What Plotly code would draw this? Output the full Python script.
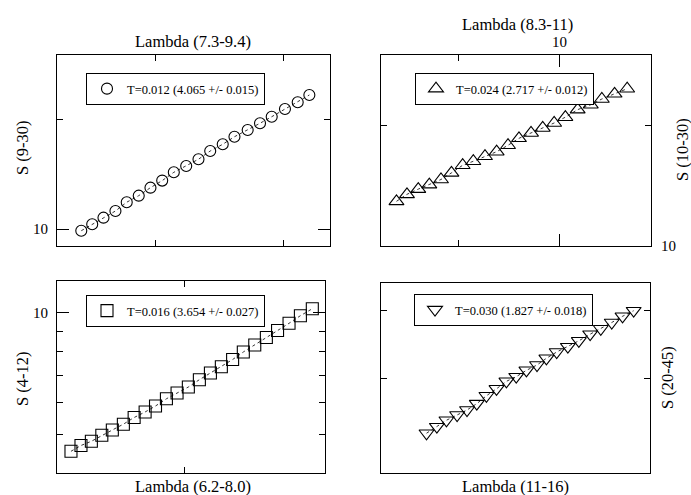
import math
import plotly.graph_objects as go

FONT = "Liberation Serif"

# ---------------- data ----------------
# Panel A (top-left): circles
LAMBDA_A = [7.466, 7.542, 7.621, 7.706, 7.787, 7.874, 7.960, 8.047, 8.134, 8.228,
            8.322, 8.413, 8.511, 8.604, 8.710, 8.810, 8.906, 9.016, 9.123, 9.222]
S_A = [9.91, 10.32, 10.76, 11.22, 11.86, 12.36, 13.00, 13.59, 14.32, 14.90,
       15.55, 16.38, 17.09, 17.92, 18.70, 19.51, 20.33, 21.35, 22.27, 23.32]
LABEL_A = "T=0.012 (4.065 +/- 0.015)"

# Panel B (top-right): up triangles
LAMBDA_B = [8.435, 8.528, 8.629, 8.729, 8.836, 8.933, 9.038, 9.139, 9.251, 9.364,
            9.476, 9.585, 9.706, 9.825, 9.943, 10.06, 10.19, 10.33, 10.45, 10.59, 10.73]
S_B = [12.93, 13.46, 13.87, 14.23, 14.66, 15.23, 15.91, 16.28, 16.76, 17.20,
       17.85, 18.58, 19.16, 19.72, 20.29, 20.98, 21.91, 22.54, 23.29, 24.00, 24.71]
LABEL_B = "T=0.024 (2.717 +/- 0.012)"

# Panel C (bottom-left): squares
LAMBDA_C = [6.283, 6.343, 6.406, 6.470, 6.535, 6.604, 6.672, 6.742, 6.809, 6.880,
            6.950, 7.025, 7.099, 7.174, 7.249, 7.327, 7.402, 7.483, 7.566, 7.647,
            7.731, 7.815, 7.904]
S_C = [4.529, 4.682, 4.796, 4.963, 5.116, 5.289, 5.495, 5.671, 5.869, 6.116,
       6.322, 6.543, 6.822, 7.088, 7.348, 7.657, 7.993, 8.320, 8.685, 9.040,
       9.420, 9.839, 10.24]
LABEL_C = "T=0.016 (3.654 +/- 0.027)"

# Panel D (bottom-right): down triangles
LAMBDA_D = [11.72, 11.89, 12.05, 12.23, 12.40, 12.57, 12.74, 12.92, 13.10, 13.28,
            13.47, 13.67, 13.85, 14.05, 14.27, 14.49, 14.72, 14.94, 15.17, 15.40, 15.64]
S_D = [23.70, 24.37, 25.05, 25.62, 26.17, 26.89, 27.81, 28.65, 29.58, 30.17,
       31.00, 31.71, 32.63, 33.52, 34.29, 35.16, 36.17, 37.02, 38.02, 39.04, 39.98]
LABEL_D = "T=0.030 (1.827 +/- 0.018)"

# axis ranges (data units) and tick values
X_RANGE_A, Y_RANGE_A = [7.3, 9.4], [9, 30]
X_RANGE_B, Y_RANGE_B = [8.3, 11], [10, 30]
X_RANGE_C, Y_RANGE_C = [6.2, 8.0], [4, 12]
X_RANGE_D, Y_RANGE_D = [11, 16], [20, 45]

X_MAJOR_A, X_MINOR_A, Y_MAJOR_A, Y_MINOR_A = [], [8, 9], [10], [20]
X_MAJOR_B, X_MINOR_B, Y_MAJOR_B, Y_MINOR_B = [10], [9], [10], [20]
X_MAJOR_C, X_MINOR_C, Y_MAJOR_C, Y_MINOR_C = [], [7], [10], [5, 6, 7, 8, 9]
X_MAJOR_D, X_MINOR_D, Y_MAJOR_D, Y_MINOR_D = [], [], [], [30, 40]

X_TITLES = ["Lambda (7.3-9.4)", "Lambda (8.3-11)", "Lambda (6.2-8.0)", "Lambda (11-16)"]
Y_TITLES = ["S (9-30)", "S (10-30)", "S (4-12)", "S (20-45)"]

W, H = 691, 495


def px_x(v):
    return v / W


def px_y(v):
    return 1 - v / H


# plot boxes in pixels: (left, right, top, bottom)
BOXES = [(57, 330, 55, 246), (381, 651, 55, 246), (57, 325, 281, 473), (381, 650, 283, 473)]

panels = [
    dict(lam=LAMBDA_A, s=S_A, label=LABEL_A, sym="circle-open", size=11,
         xr=X_RANGE_A, yr=Y_RANGE_A, xmaj=X_MAJOR_A, xmin=X_MINOR_A, ymaj=Y_MAJOR_A, ymin=Y_MINOR_A,
         xside="bottom", yside="left", leg=(86, 73)),
    dict(lam=LAMBDA_B, s=S_B, label=LABEL_B, sym="triangle-up-open", size=13,
         xr=X_RANGE_B, yr=Y_RANGE_B, xmaj=X_MAJOR_B, xmin=X_MINOR_B, ymaj=Y_MAJOR_B, ymin=Y_MINOR_B,
         xside="top", yside="right", leg=(415, 73)),
    dict(lam=LAMBDA_C, s=S_C, label=LABEL_C, sym="square-open", size=12,
         xr=X_RANGE_C, yr=Y_RANGE_C, xmaj=X_MAJOR_C, xmin=X_MINOR_C, ymaj=Y_MAJOR_C, ymin=Y_MINOR_C,
         xside="bottom", yside="left", leg=(86, 295)),
    dict(lam=LAMBDA_D, s=S_D, label=LABEL_D, sym="triangle-down-open", size=13,
         xr=X_RANGE_D, yr=Y_RANGE_D, xmaj=X_MAJOR_D, xmin=X_MINOR_D, ymaj=Y_MAJOR_D, ymin=Y_MINOR_D,
         xside="bottom", yside="right", leg=(414, 294)),
]


def make_axis(domain, rng, major, minor, side, anchor):
    ax = dict(type="log", domain=domain,
              range=[math.log10(rng[0]), math.log10(rng[1])],
              anchor=anchor, side=side,
              showline=True, linecolor="black", linewidth=1, mirror="ticks",
              ticks="inside", ticklen=12, tickwidth=1, tickcolor="black",
              tickmode="array", tickvals=major, showticklabels=False,
              showgrid=False, zeroline=False)
    if minor:
        ax["minor"] = dict(tickmode="array", tickvals=minor, ticks="inside", ticklen=6,
                           tickwidth=1, tickcolor="black", showgrid=False)
    return ax


fig = go.Figure()
layout = dict(width=W, height=H, margin=dict(l=0, r=0, t=0, b=0),
              paper_bgcolor="white", plot_bgcolor="white",
              font=dict(family=FONT, color="black"), annotations=[])

for i, p in enumerate(panels):
    sfx = "" if i == 0 else str(i + 1)
    xa, ya = "x" + sfx, "y" + sfx
    l, r, t, b = BOXES[i]
    fig.add_trace(go.Scatter(x=p["lam"], y=p["s"], mode="lines",
                             line=dict(color="black", width=0.8, dash="3px,3px"),
                             showlegend=False, hoverinfo="skip", xaxis=xa, yaxis=ya))
    fig.add_trace(go.Scatter(x=p["lam"], y=p["s"], mode="markers", name=p["label"],
                             marker=dict(symbol=p["sym"], size=p["size"], color="black",
                                         line=dict(width=1.1, color="black")),
                             legend="legend" + sfx, xaxis=xa, yaxis=ya))
    layout["xaxis" + sfx] = make_axis([px_x(l), px_x(r)], p["xr"], p["xmaj"], p["xmin"], p["xside"], ya)
    layout["yaxis" + sfx] = make_axis([px_y(b), px_y(t)], p["yr"], p["ymaj"], p["ymin"], p["yside"], xa)
    layout["legend" + sfx] = dict(x=px_x(p["leg"][0]), y=px_y(p["leg"][1]), xanchor="left", yanchor="top",
                                  bgcolor="white", bordercolor="black", borderwidth=1,
                                  font=dict(family=FONT, size=12.5, color="black"))

    # major tick labels, positioned on the axis scale (log axes use log10 units)
    tick_font = dict(family=FONT, size=15, color="black")
    for v in p["ymaj"]:
        if p["yside"] == "left":
            ax_x, anchor = px_x(l - 7), "right"
        else:
            ax_x, anchor = px_x(r + 8), "left"
        layout["annotations"].append(dict(text=str(v), xref="paper", yref=ya, x=ax_x, y=math.log10(v),
                                          xanchor=anchor, yanchor="middle", showarrow=False, font=tick_font))
    for v in p["xmaj"]:
        if p["xside"] == "top":
            ax_y, anchor = px_y(t - 3), "bottom"
        else:
            ax_y, anchor = px_y(b + 3), "top"
        layout["annotations"].append(dict(text=str(v), xref=xa, yref="paper", x=math.log10(v), y=ax_y,
                                          xanchor="center", yanchor=anchor, showarrow=False, font=tick_font))

# axis titles as annotations
TITLE_POS = [(193, 42), (517, 25), (193, 486), (515, 486)]
YTITLE_POS = [(23, 148), (683, 150), (22, 378), (667, 378)]
for i in range(4):
    layout["annotations"].append(dict(text=X_TITLES[i], x=px_x(TITLE_POS[i][0]), y=px_y(TITLE_POS[i][1]),
                                      xref="paper", yref="paper", showarrow=False,
                                      xanchor="center", yanchor="middle",
                                      font=dict(family=FONT, size=16.5, color="black")))
    layout["annotations"].append(dict(text=Y_TITLES[i], x=px_x(YTITLE_POS[i][0]), y=px_y(YTITLE_POS[i][1]),
                                      xref="paper", yref="paper", showarrow=False, textangle=-90,
                                      xanchor="center", yanchor="middle",
                                      font=dict(family=FONT, size=16.5, color="black")))

fig.update_layout(**layout)
fig.write_html("out.html", config={"displayModeBar": False},
               post_script="document.body.style.margin='0';document.body.style.overflow='hidden';")
